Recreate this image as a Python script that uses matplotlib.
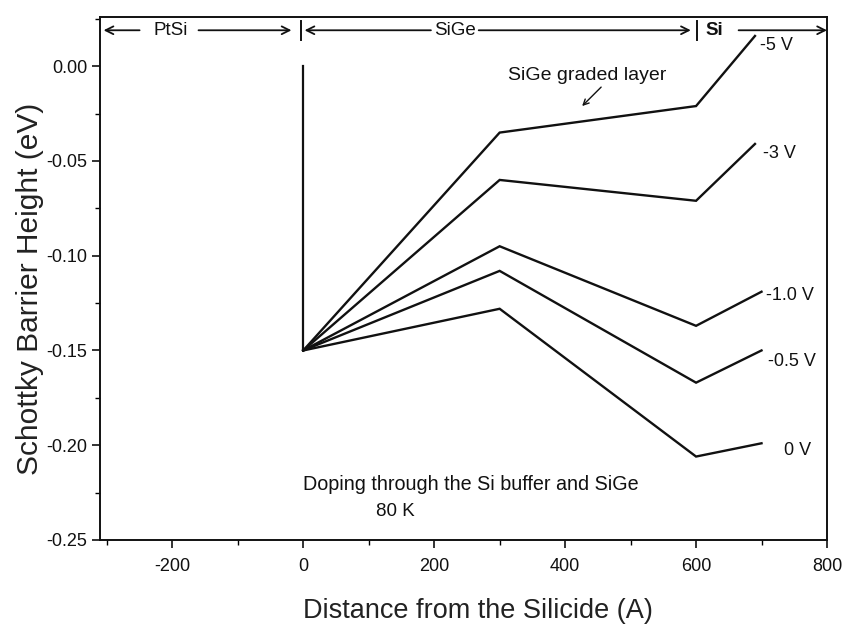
import matplotlib
matplotlib.use("Agg")
import matplotlib.pyplot as plt
from matplotlib.ticker import MultipleLocator, FormatStrFormatter

plt.rcParams['font.family'] = ['Liberation Sans', 'DejaVu Sans']
plt.rcParams['axes.unicode_minus'] = False

# ---- data ----
voltages = ["-5 V", "-3 V", "-1.0 V", "-0.5 V", "0 V"]
x_start = [0, 0, 0, 0, 0]
x_kink1 = [300, 300, 300, 300, 300]
x_kink2 = [600, 600, 600, 600, 600]
x_end = [690, 690, 700, 700, 700]
y_start = [-0.150, -0.150, -0.150, -0.150, -0.150]
y_kink1 = [-0.035, -0.060, -0.095, -0.108, -0.128]
y_kink2 = [-0.021, -0.071, -0.137, -0.167, -0.206]
y_end = [0.016, -0.041, -0.119, -0.150, -0.199]
label_x = [697, 702, 707, 710, 735]
label_y = [0.011, -0.046, -0.121, -0.156, -0.203]

wall_x = [0, 0]
wall_y = [0.0, -0.150]

xticks = [-200, 0, 200, 400, 600, 800]
yticks = [0.00, -0.05, -0.10, -0.15, -0.20, -0.25]

fig = plt.figure(figsize=(8.43, 6.30), dpi=100)
ax = fig.add_axes([0.119, 0.143, 0.862, 0.830])

lc = '#111111'
ax.plot(wall_x, wall_y, color=lc, lw=1.6)
for i in range(len(voltages)):
    xs = [x_start[i], x_kink1[i], x_kink2[i], x_end[i]]
    ys = [y_start[i], y_kink1[i], y_kink2[i], y_end[i]]
    ax.plot(xs, ys, color=lc, lw=1.7, solid_joinstyle='miter')
    ax.text(label_x[i], label_y[i], voltages[i], fontsize=13, ha='left',
            va='center', color=lc)

ax.set_xlim(-310, 800)
ax.set_ylim(-0.25, 0.026)
ax.set_xticks(xticks)
ax.set_yticks(yticks)
ax.yaxis.set_major_formatter(FormatStrFormatter('%.2f'))
ax.xaxis.set_minor_locator(MultipleLocator(100))
ax.yaxis.set_minor_locator(MultipleLocator(0.025))
ax.tick_params(which='major', direction='out', length=6, width=1.2,
               labelsize=13, colors=lc, top=False, right=False)
ax.tick_params(axis='x', which='major', pad=7)
ax.tick_params(which='minor', direction='out', length=3.5, width=1.0,
               top=False, right=False)
for s in ax.spines.values():
    s.set_linewidth(1.4)
    s.set_color(lc)

ax.set_xlabel("Distance from the Silicide (A)", fontsize=19.5,
              color='#222222')
ax.set_ylabel("Schottky Barrier Height (eV)", fontsize=21.5,
              color='#222222')
ax.xaxis.set_label_coords(0.52, -0.112)
ax.yaxis.set_label_coords(-0.078, 0.48)

# ---- region arrows along the top ----
ya = 0.019
aprops = dict(arrowstyle='->', color=lc, lw=1.3, shrinkA=0, shrinkB=0,
              mutation_scale=14)
arrows = [(-250, -305), (-160, -18), (195, 2), (268, 592), (665, 800)]
for tail, head in arrows:
    ax.annotate('', xy=(head, ya), xytext=(tail, ya), arrowprops=aprops)
for bx in [-4, 602]:
    ax.plot([bx, bx], [ya - 0.005, ya + 0.005], color=lc, lw=1.4)
ax.text(-203, ya, "PtSi", fontsize=13.5, ha='center', va='center', color=lc)
ax.text(232, ya, "SiGe", fontsize=13.5, ha='center', va='center', color=lc)
ax.text(628, ya, "Si", fontsize=13.5, ha='center', va='center', color=lc,
        fontweight='bold')

# ---- annotations ----
ax.text(433, -0.005, "SiGe graded layer", fontsize=14, ha='center',
        va='center', color=lc)
ax.annotate('', xy=(426, -0.021), xytext=(455, -0.011),
            arrowprops=dict(arrowstyle='->', color=lc, lw=1.0,
                            mutation_scale=10, shrinkA=0, shrinkB=0))
ax.text(256, -0.221, "Doping through the Si buffer and SiGe", fontsize=14.2,
        ha='center', va='center', color=lc)
ax.text(140, -0.235, "80 K", fontsize=13.5, ha='center', va='center',
        color=lc)

fig.savefig("out.png", dpi=100)
